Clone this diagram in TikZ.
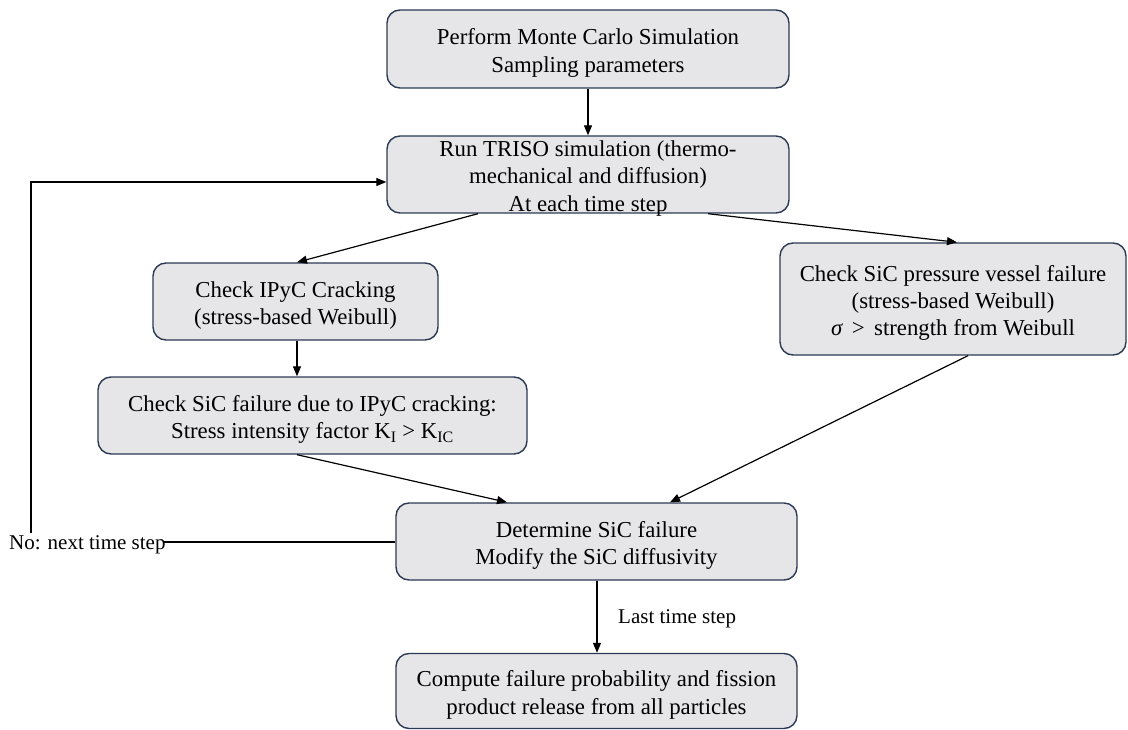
\documentclass[tikz,border=0pt]{standalone}
\usepackage{fontspec}
\setmainfont{Liberation Serif}
\usetikzlibrary{arrows.meta}
\definecolor{boxfill}{HTML}{E6E6E8}
\definecolor{boxline}{HTML}{2C3A55}
\begin{document}
\begin{tikzpicture}[x=1pt,y=-1pt,
  box/.style={draw=boxline, fill=boxfill, line width=1.4pt, rounded corners=13pt,
    inner sep=0pt},
  txt/.style={align=center, inner sep=0pt, yshift=-4pt, font=\fontsize{22.8}{27.3}\selectfont},
  conn/.style={line width=1.2pt, -{Triangle[length=10pt,width=8pt]}},
  plain/.style={line width=1.2pt},
  lbl/.style={font=\fontsize{21}{24}\selectfont, inner sep=0pt}]
\useasboundingbox (0,0) rectangle (1128,730);
\node[box, minimum width=402pt, minimum height=78pt] (top) at (588,49) {};
\node[txt] (toptxt) at (top.center) {Perform Monte Carlo Simulation\\Sampling parameters};
\node[box, minimum width=402pt, minimum height=77pt] (triso) at (588,174.5) {};
\node[txt] (trisotxt) at (triso.center) {Run TRISO simulation (thermo-\\mechanical and diffusion)\\At each time step};
\node[box, minimum width=285pt, minimum height=77pt] (ipyc) at (295.5,301.5) {};
\node[txt] (ipyctxt) at (ipyc.center) {Check IPyC Cracking\\(stress-based Weibull)};
\node[box, minimum width=346pt, minimum height=112pt] (sicpv) at (953,299) {};
\node[txt] (sicpvtxt) at (sicpv.center) {Check SiC pressure vessel failure\\(stress-based Weibull)\\{\itshape σ} \,>\, strength from Weibull};
\node[box, minimum width=429pt, minimum height=77pt] (sicf) at (312.5,415.5) {};
\node[txt] (sicftxt) at (sicf.center) {Check SiC failure due to IPyC cracking:\\Stress intensity factor K\textsubscript{I} > K\textsubscript{IC}};
\node[box, minimum width=401pt, minimum height=77pt] (det) at (596.5,541.5) {};
\node[txt] (dettxt) at (det.center) {Determine SiC failure\\Modify the SiC diffusivity};
\node[box, minimum width=401pt, minimum height=75pt] (final) at (596.5,691) {};
\node[txt] (finaltxt) at (final.center) {Compute failure probability and fission\\product release from all particles};
\node[lbl, anchor=west] (nolbl) at (9,545) {No: next time step};
\node[lbl, anchor=west] (lastlbl) at (618,619) {Last time step};
\coordinate (loopc) at (31,182);
\coordinate (loopb) at (31,533);
% connectors
\draw[conn] (top.south) -- (triso.north);
\draw[conn] (triso.south -| 478,0) -- (ipyc.north -| 297,0);
\draw[conn] (triso.south -| 708,0) -- (sicpv.north -| 957,0);
\draw[conn] (ipyc.south -| 297,0) -- (sicf.north -| 297,0);
\draw[conn] (sicf.south -| 297,0) -- (det.north -| 507,0);
\draw[conn] (sicpv.south -| 968,0) -- (det.north -| 670,0);
\draw[conn] (det.south -| 597,0) -- (final.north -| 597,0);
\draw[plain] (det.west |- 0,542) -- (163,542);
\draw[conn] (loopb) -- (loopc) -- (triso.west |- loopc);
\end{tikzpicture}
\end{document}
